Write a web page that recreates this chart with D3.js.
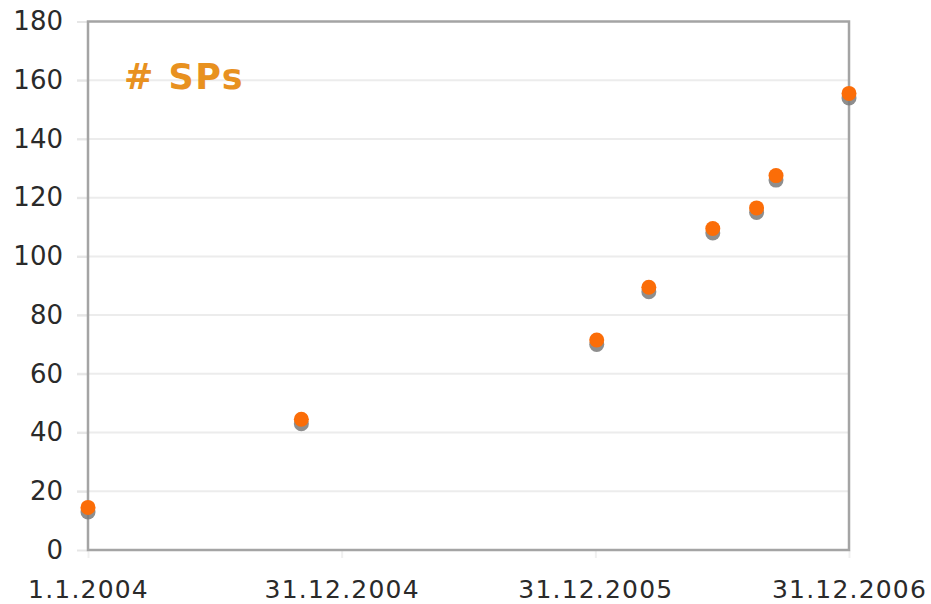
<!DOCTYPE html>
<html>
<head>
<meta charset="utf-8">
<script src="https://cdn.jsdelivr.net/npm/d3@7"></script>
<style>
  body { margin: 0; background: #fff; }
</style>
</head>
<body>
<svg id="chart"></svg>
<script>
// data
const dates = ["2004-01-01", "2004-11-03", "2006-01-02", "2006-03-18", "2006-06-18", "2006-08-20", "2006-09-17", "2006-12-31"];
const counts = [14, 44, 71, 89, 109, 116, 127, 155];
const xTickDates = ["2004-01-01", "2004-12-31", "2005-12-31", "2006-12-31"];
const yTicks = [0, 20, 40, 60, 80, 100, 120, 140, 160, 180];
const seriesLabel = "# SPs";

const width = 931;
const height = 604;
const margin = { top: 21.5, right: 82, bottom: 54, left: 88 };

const parse = d3.timeParse("%Y-%m-%d");
const fmt = d => d.getDate() + "." + (d.getMonth() + 1) + "." + d.getFullYear();

const data = dates.map((d, i) => ({ date: parse(d), value: counts[i] }));

const svg = d3.select("#chart")
    .attr("width", width)
    .attr("height", height);

const x = d3.scaleTime()
    .domain([parse(xTickDates[0]), parse(xTickDates[xTickDates.length - 1])])
    .range([margin.left, width - margin.right]);

const y = d3.scaleLinear()
    .domain([0, 180])
    .range([height - margin.bottom, margin.top]);

// grid lines
svg.append("g")
    .selectAll("line")
    .data(yTicks.slice(1, -1))
    .join("line")
    .attr("x1", margin.left - 11)
    .attr("x2", width - margin.right)
    .attr("y1", d => y(d))
    .attr("y2", d => y(d))
    .attr("stroke", "#ececec")
    .attr("stroke-width", 2);

// y axis labels
const yAxis = svg.append("g")
    .attr("transform", "translate(" + margin.left + ",0)")
    .call(d3.axisLeft(y).tickValues(yTicks).tickSize(11).tickPadding(14));
yAxis.select(".domain").remove();
yAxis.selectAll(".tick line").attr("stroke", "#e6e6e6").attr("stroke-width", 2);
yAxis.selectAll("text")
    .attr("font-family", "DejaVu Sans, Verdana, sans-serif")
    .attr("font-size", 26)
    .attr("fill", "#2a2a2a");

// x axis labels
const xAxis = svg.append("g")
    .attr("transform", "translate(0," + (height - margin.bottom) + ")")
    .call(d3.axisBottom(x).tickValues(xTickDates.map(parse)).tickFormat(fmt).tickSize(8).tickPadding(22));
xAxis.select(".domain").remove();
xAxis.selectAll(".tick line").attr("stroke", "#f0f0f0").attr("stroke-width", 2);
xAxis.selectAll("text")
    .attr("font-family", "DejaVu Sans, Verdana, sans-serif")
    .attr("font-size", 25)
    .attr("letter-spacing", 1.2)
    .attr("fill", "#2a2a2a");

// frame
svg.append("rect")
    .attr("x", margin.left)
    .attr("y", margin.top)
    .attr("width", width - margin.right - margin.left)
    .attr("height", height - margin.bottom - margin.top)
    .attr("fill", "none")
    .attr("stroke", "#a4a4a4")
    .attr("stroke-width", 2.5);

// points: grey shadow then orange dot
const pts = svg.append("g");
pts.selectAll("circle.shadow")
    .data(data)
    .join("circle")
    .attr("class", "shadow")
    .attr("cx", d => x(d.date))
    .attr("cy", d => y(d.value) + 3)
    .attr("r", 7.5)
    .attr("fill", "#7a7a7a")
    .attr("opacity", 0.85);
pts.selectAll("circle.dot")
    .data(data)
    .join("circle")
    .attr("class", "dot")
    .attr("cx", d => x(d.date))
    .attr("cy", d => y(d.value) - 1.5)
    .attr("r", 7.5)
    .attr("fill", "#fb6d08");

// series label
svg.append("text")
    .attr("x", 124)
    .attr("y", 89)
    .attr("font-family", "DejaVu Sans, Verdana, sans-serif")
    .attr("font-weight", "bold")
    .attr("font-size", 35)
    .attr("letter-spacing", 1.5)
    .attr("fill", "#e8911f")
    .text(seriesLabel);
</script>
</body>
</html>
